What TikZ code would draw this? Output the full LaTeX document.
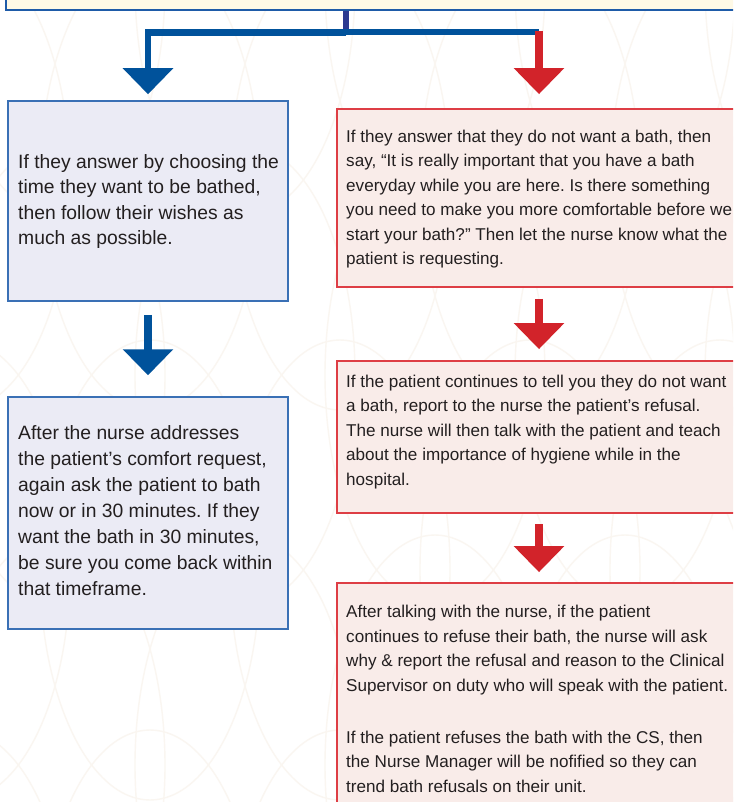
\documentclass[tikz,border=0pt]{standalone}
\usepackage{fontspec}
\setmainfont{Liberation Sans}
\usetikzlibrary{arrows.meta}
\definecolor{bluearrow}{HTML}{00529B}
\definecolor{navystem}{HTML}{2B3990}
\definecolor{redarrow}{HTML}{D2232A}
\definecolor{lbfill}{HTML}{EBEBF5}
\definecolor{lbdraw}{HTML}{3A70B5}
\definecolor{rbfill}{HTML}{F9ECE9}
\definecolor{rbdraw}{HTML}{DE3E45}
\definecolor{topfill}{HTML}{FEF9E6}
\definecolor{topdraw}{HTML}{1E5BA8}
\definecolor{txtcol}{HTML}{231F20}
\definecolor{bgline}{HTML}{FAF6F1}
\frenchspacing
\begin{document}
\begin{tikzpicture}[x=1pt,y=-1pt,
  leftbox/.style={draw=lbdraw, line width=1.5pt, fill=lbfill, minimum width=280pt, inner sep=0pt},
  rightbox/.style={draw=rbdraw, line width=1.8pt, fill=rbfill, minimum width=420pt, inner sep=0pt},
  topbox/.style={draw=topdraw, line width=1.8pt, fill=topfill, minimum width=739pt, minimum height=30pt, inner sep=0pt},
  lefttext/.style={anchor=west, inner sep=0pt, align=left, text=txtcol, font=\fontsize{19.3}{25.5}\selectfont},
  righttext/.style={anchor=west, inner sep=0pt, align=left, text=txtcol, font=\fontsize{17.1}{24.5}\selectfont},
  bluebig/.style={bluearrow, line width=8pt, -{Triangle[width=49pt,length=26pt]}},
  redbig/.style={redarrow, line width=8pt, -{Triangle[width=49pt,length=26pt]}}
]
\useasboundingbox (0,0) rectangle (733,802);
\clip (0,0) rectangle (733,802);
\fill[white] (0,0) rectangle (733,802);
% faint background lattice
\foreach \cx in {-40,150,340,530,720}{
  \foreach \cy in {180,570,960}{
    \draw[bgline, line width=1.4pt] (\cx,\cy) ellipse [x radius=110pt, y radius=230pt];
  }
}
\foreach \cx in {55,245,435,625,815}{
  \foreach \cy in {-15,375,765}{
    \draw[bgline, line width=1.4pt] (\cx,\cy) ellipse [x radius=110pt, y radius=230pt];
  }
}
% boxes
\node[topbox] (top) at (375.5,-5) {};
\node[leftbox, minimum height=200pt] (lb1) at (148,201) {};
\node[leftbox, minimum height=232pt] (lb2) at (148,513) {};
\node[rightbox, minimum height=178pt] (rb1) at (547,198) {};
\node[rightbox, minimum height=152pt] (rb2) at (547,437) {};
\node[rightbox, minimum height=236pt] (rb3) at (547,701) {};
% texts
\node[lefttext] (t1) at (18,201.5) {If they answer by choosing the\\time they want to be bathed,\\then follow their wishes as\\much as possible.};
\node[lefttext, font=\fontsize{19.3}{26}\selectfont] (t2) at (18,511) {After the nurse addresses\\the patient’s comfort request,\\again ask the patient to bath\\now or in 30 minutes. If they\\want the bath in 30 minutes,\\be sure you come back within\\that timeframe.};
\node[righttext] (t3) at (346,199) {If they answer that they do not want a bath, then\\say, “It is really important that you have a bath\\everyday while you are here. Is there something\\you need to make you more comfortable before we\\start your bath?” Then let the nurse know what the\\patient is requesting.};
\node[righttext] (t4) at (346,432) {If the patient continues to tell you they do not want\\a bath, report to the nurse the patient’s refusal.\\The nurse will then talk with the patient and teach\\about the importance of hygiene while in the\\hospital.};
\node[righttext] (t5) at (346,699) {After talking with the nurse, if the patient\\continues to refuse their bath, the nurse will ask\\why \& report the refusal and reason to the Clinical\\Supervisor on duty who will speak with the patient.\\[27.5pt]If the patient refuses the bath with the CS, then\\the Nurse Manager will be nofified so they can\\trend bath refusals on their unit.};
% top connectors
\coordinate (j) at (346,32.5);
\coordinate (rtop) at (539,32.5);
\draw[navystem, line width=6pt] (top.south -| j) -- (j);
\draw[bluearrow, line width=6pt] (j) -- (rtop);
\draw[bluearrow, line width=6.5pt, -{Triangle[width=49pt,length=26pt]}, shorten >=6pt] (j) -| (lb1.north);
\draw[redbig, shorten >=14pt] ([yshift=1.5pt]rtop) -- (rtop |- rb1.north);
% flow arrows
\draw[bluebig, shorten <=13pt, shorten >=21pt] (lb1.south) -- (lb2.north);
\draw[redbig, shorten <=11pt, shorten >=11pt] (rb1.south -| rtop) -- (rb2.north -| rtop);
\draw[redbig, shorten <=10pt, shorten >=10pt] (rb2.south -| rtop) -- (rb3.north -| rtop);
\end{tikzpicture}
\end{document}
